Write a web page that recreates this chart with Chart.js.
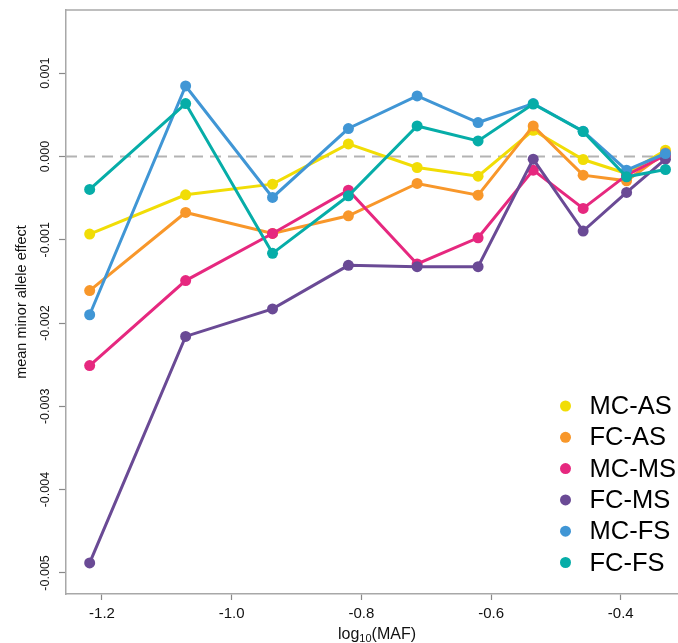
<!DOCTYPE html>
<html>
<head>
<meta charset="utf-8">
<script src="https://cdn.jsdelivr.net/npm/chart.js@4.4.1/dist/chart.umd.min.js"></script>
<style>
  html, body { margin: 0; padding: 0; background: #fff; overflow: hidden; }
  #wrap { width: 678px; height: 643px; position: relative; }
  canvas { display: block; }
</style>
</head>
<body>
<div id="wrap"><canvas id="cnv"></canvas></div>
<script>
// log10(MAF) bin centres
const logMaf = [-1.219, -1.071, -0.937, -0.820, -0.714, -0.620, -0.535, -0.458, -0.391, -0.331];

const seriesNames = ['MC-AS', 'FC-AS', 'MC-MS', 'FC-MS', 'MC-FS', 'FC-FS'];
const seriesColors = ['#F1DD06', '#F8972A', '#E6287F', '#6A4A95', '#4096D5', '#06ADA8'];

// mean minor allele effect per bin
const mcAS = [-0.000932, -0.000460, -0.000332, 0.000151, -0.000132, -0.000236, 0.000315, -0.000036, -0.000204, 0.000076];
const fcAS = [-0.001610, -0.000672, -0.000924, -0.000712, -0.000324, -0.000464, 0.000367, -0.000224, -0.000292, 0.000044];
const mcMS = [-0.002510, -0.001490, -0.000924, -0.000404, -0.001290, -0.000976, -0.000164, -0.000624, -0.000224, 0.000016];
const fcMS = [-0.004880, -0.002160, -0.001830, -0.001307, -0.001323, -0.001323, -0.000032, -0.000896, -0.000432, -0.000032];
const mcFS = [-0.001900, 0.000847, -0.000492, 0.000336, 0.000727, 0.000408, 0.000636, 0.000303, -0.000164, 0.000036];
const fcFS = [-0.000396, 0.000636, -0.001163, -0.000472, 0.000367, 0.000187, 0.000630, 0.000300, -0.000244, -0.000156];

const seriesValues = [mcAS, fcAS, mcMS, fcMS, mcFS, fcFS];

const xTicks = [-1.2, -1.0, -0.8, -0.6, -0.4];
const yTicks = [-0.005, -0.004, -0.003, -0.002, -0.001, 0, 0.001];

const xMin = -1.2555, xMax = -0.3117;
const yMin = -0.005253, yMax = 0.001759;

const FONT = "'Liberation Sans', Arial, Helvetica, sans-serif";

const datasets = seriesNames.map((name, i) => ({
  label: name,
  data: logMaf.map((x, j) => ({ x: x, y: seriesValues[i][j] })),
  borderColor: seriesColors[i],
  backgroundColor: seriesColors[i],
  pointBackgroundColor: seriesColors[i],
  borderWidth: 3,
  pointRadius: 5.5,
  pointBorderWidth: 0,
  tension: 0,
  order: seriesNames.length - i
}));

// dashed reference line at zero
datasets.push({
  label: 'zero',
  data: [{ x: xMin, y: 0 }, { x: xMax, y: 0 }],
  borderColor: '#b3b3b3',
  borderWidth: 2,
  borderDash: [11, 7],
  pointRadius: 0,
  order: 100
});

const extras = {
  id: 'extras',
  afterDraw(chart) {
    const ctx = chart.ctx;
    const area = chart.chartArea;
    ctx.save();
    // top border of the box
    ctx.strokeStyle = '#a8a8a8';
    ctx.lineWidth = 1.5;
    ctx.beginPath();
    ctx.moveTo(area.left, area.top);
    ctx.lineTo(area.right, area.top);
    ctx.stroke();

    // x axis title with subscript
    ctx.fillStyle = '#111';
    ctx.textBaseline = 'alphabetic';
    ctx.textAlign = 'left';
    const big = '16px ' + FONT, small = '11px ' + FONT;
    ctx.font = big;
    const w1 = ctx.measureText('log').width;
    const w3 = ctx.measureText('(MAF)').width;
    ctx.font = small;
    const w2 = ctx.measureText('10').width;
    let x = 377 - (w1 + w2 + w3) / 2;
    const y = 639;
    ctx.font = big; ctx.fillText('log', x, y); x += w1;
    ctx.font = small; ctx.fillText('10', x, y + 3); x += w2;
    ctx.font = big; ctx.fillText('(MAF)', x, y);

    // legend
    ctx.font = '25.5px ' + FONT;
    ctx.textBaseline = 'middle';
    seriesNames.forEach((name, i) => {
      const ly = 406 + i * 31.3;
      ctx.fillStyle = seriesColors[i];
      ctx.beginPath();
      ctx.arc(565.5, ly, 5.5, 0, Math.PI * 2);
      ctx.fill();
      ctx.fillStyle = '#000';
      ctx.fillText(name, 589.5, ly + 1);
    });
    ctx.restore();
  }
};

new Chart(document.getElementById('cnv'), {
  type: 'line',
  data: { datasets: datasets },
  options: {
    responsive: true,
    maintainAspectRatio: false,
    animation: false,
    layout: { autoPadding: false, padding: { top: 10, right: 0, left: 0, bottom: 0 } },
    plugins: { legend: { display: false }, tooltip: { enabled: false } },
    scales: {
      x: {
        type: 'linear',
        min: xMin,
        max: xMax,
        afterBuildTicks: s => { s.ticks = xTicks.map(v => ({ value: v })); },
        afterFit: s => { s.height = 49; },
        grid: { drawOnChartArea: false, tickLength: 6, tickColor: '#888', tickWidth: 1.2 },
        border: { color: '#a8a8a8', width: 1.5 },
        ticks: {
          font: { family: FONT, size: 15 },
          color: '#111',
          padding: 5,
          maxRotation: 0,
          autoSkip: false,
          callback: v => v.toFixed(1)
        }
      },
      y: {
        type: 'linear',
        min: yMin,
        max: yMax,
        afterBuildTicks: s => { s.ticks = yTicks.map(v => ({ value: v })); },
        afterFit: s => { s.width = 66; },
        grid: { drawOnChartArea: false, tickLength: 7, tickColor: '#888', tickWidth: 1.2 },
        border: { color: '#a8a8a8', width: 1.5 },
        ticks: {
          font: { family: FONT, size: 12.5 },
          color: '#111',
          minRotation: 90,
          maxRotation: 90,
          crossAlign: 'center',
          padding: -4,
          autoSkip: false,
          callback: v => v.toFixed(3)
        },
        title: {
          display: true,
          text: 'mean minor allele effect',
          color: '#111',
          font: { family: FONT, size: 14.5 },
          padding: { top: 13, bottom: 0 }
        }
      }
    }
  },
  plugins: [extras]
});
</script>
</body>
</html>
